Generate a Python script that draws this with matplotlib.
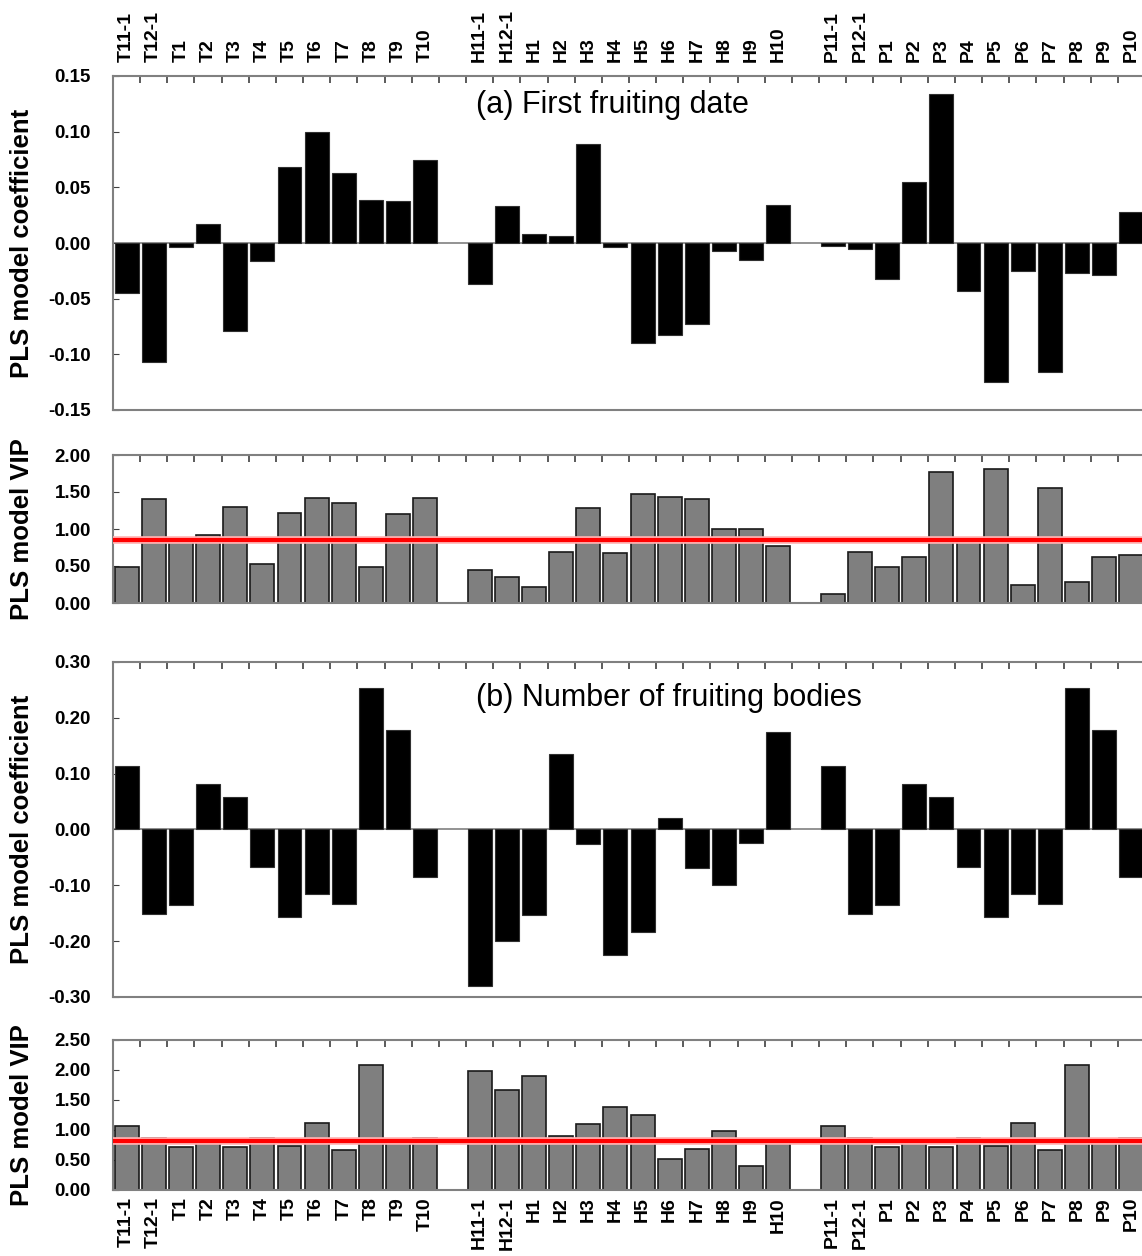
import matplotlib
matplotlib.use('Agg')
import matplotlib.pyplot as plt
import matplotlib.patheffects as pe
import numpy as np

plt.rcParams['font.family'] = ['Liberation Sans', 'DejaVu Sans']

# variable names, in order, with an empty slot between the groups
labels = ['T11-1', 'T12-1', 'T1', 'T2', 'T3', 'T4', 'T5', 'T6', 'T7', 'T8', 'T9', 'T10', '',
          'H11-1', 'H12-1', 'H1', 'H2', 'H3', 'H4', 'H5', 'H6', 'H7', 'H8', 'H9', 'H10', '',
          'P11-1', 'P12-1', 'P1', 'P2', 'P3', 'P4', 'P5', 'P6', 'P7', 'P8', 'P9', 'P10']

# (a) first fruiting date
coef_a = [-0.045, -0.107, -0.004, 0.017, -0.079, -0.016, 0.068, 0.100, 0.063, 0.039, 0.038, 0.075, np.nan,
          -0.037, 0.033, 0.008, 0.006, 0.089, -0.004, -0.090, -0.083, -0.073, -0.007, -0.015, 0.034, np.nan,
          -0.003, -0.005, -0.032, 0.055, 0.134, -0.043, -0.125, -0.025, -0.116, -0.027, -0.029, 0.028]
vip_a = [0.48, 1.40, 0.82, 0.92, 1.30, 0.53, 1.22, 1.42, 1.35, 0.48, 1.20, 1.42, np.nan,
         0.45, 0.35, 0.21, 0.69, 1.28, 0.68, 1.47, 1.43, 1.40, 1.00, 1.00, 0.77, np.nan,
         0.12, 0.69, 0.48, 0.62, 1.77, 0.84, 1.81, 0.25, 1.55, 0.28, 0.62, 0.65]
vip_a_cut = 0.85

# (b) number of fruiting bodies
coef_b = [0.113, -0.151, -0.135, 0.081, 0.059, -0.067, -0.157, -0.115, -0.133, 0.253, 0.179, -0.085, np.nan,
          -0.280, -0.200, -0.154, 0.135, -0.026, -0.225, -0.184, 0.020, -0.069, -0.099, -0.024, 0.174, np.nan,
          0.113, -0.151, -0.135, 0.081, 0.059, -0.067, -0.157, -0.115, -0.133, 0.253, 0.179, -0.085]
vip_b = [1.06, 0.86, 0.71, 0.80, 0.71, 0.86, 0.73, 1.12, 0.66, 2.08, 0.80, 0.86, np.nan,
         1.98, 1.67, 1.90, 0.90, 1.10, 1.39, 1.25, 0.52, 0.69, 0.98, 0.40, 0.81, np.nan,
         1.06, 0.86, 0.71, 0.80, 0.71, 0.86, 0.73, 1.12, 0.66, 2.08, 0.80, 0.86]
vip_b_cut = 0.81

n = len(labels)
x = np.arange(n) + 0.5
spine_col = '#808080'

fig = plt.figure(figsize=(11.42, 12.56), dpi=100)
W, H = 1142, 1256
def box(top, bottom):
    return [113 / W, 1 - bottom / H, 1032 / W, (bottom - top) / H]

ax1 = fig.add_axes(box(76, 410))
ax2 = fig.add_axes(box(455, 603))
ax3 = fig.add_axes(box(662, 997))
ax4 = fig.add_axes(box(1040, 1190))


def style(ax, yticks, ylabel, top_labels=False, bottom_labels=False):
    ax.set_xlim(0, n)
    ax.set_ylim(yticks[0], yticks[-1])
    ax.set_yticks(yticks)
    ax.set_yticklabels(['%.2f' % v for v in yticks], fontweight='bold', fontsize=13.5)
    ax.tick_params(axis='y', direction='in', length=4, color='#404040', pad=16)
    for s in ax.spines.values():
        s.set_color(spine_col)
        s.set_linewidth(1.5)
    ax.spines['right'].set_visible(False)
    ax.set_xticks(x)
    ax.set_xticklabels(labels, rotation=90, fontweight='bold', fontsize=14)
    ax.tick_params(axis='x', which='major', length=0, top=False, bottom=False,
                   labeltop=top_labels, labelbottom=bottom_labels, pad=10 if top_labels else 5)
    ax.set_xticks(np.arange(1, n), minor=True)
    ax.tick_params(axis='x', which='minor', direction='in', length=5, width=1.2,
                   color='#404040', top=True, bottom=False)
    ax.set_ylabel(ylabel, fontweight='bold', fontsize=18.5)
    ax.yaxis.set_label_coords(-0.077, 0.5)


def coef_panel(ax, vals, title, ty):
    ax.axhline(0, color=spine_col, lw=1.2, zorder=1)
    ax.bar(x, vals, width=0.88, color='black', edgecolor='#303030', lw=0.8, zorder=2)
    ax.text(13.35, ty, title, fontsize=22, ha='left', va='center')


def vip_panel(ax, vals, cut):
    ax.bar(x, vals, width=0.88, color='#7f7f7f', edgecolor='#1a1a1a', lw=1.2, zorder=2)
    ax.axhline(cut, color='red', lw=3, zorder=3,
               path_effects=[pe.Stroke(linewidth=5.5, foreground='#ffb3b3'), pe.Normal()])


coef_panel(ax1, coef_a, '(a) First fruiting date', 0.124)
style(ax1, [-0.15, -0.10, -0.05, 0.00, 0.05, 0.10, 0.15], 'PLS model coefficient', top_labels=True)

vip_panel(ax2, vip_a, vip_a_cut)
style(ax2, [0.0, 0.5, 1.0, 1.5, 2.0], 'PLS model VIP')

coef_panel(ax3, coef_b, '(b) Number of fruiting bodies', 0.235)
style(ax3, [-0.30, -0.20, -0.10, 0.00, 0.10, 0.20, 0.30], 'PLS model coefficient')

vip_panel(ax4, vip_b, vip_b_cut)
style(ax4, [0.0, 0.5, 1.0, 1.5, 2.0, 2.5], 'PLS model VIP', bottom_labels=True)

fig.savefig('out.png', dpi=100)
